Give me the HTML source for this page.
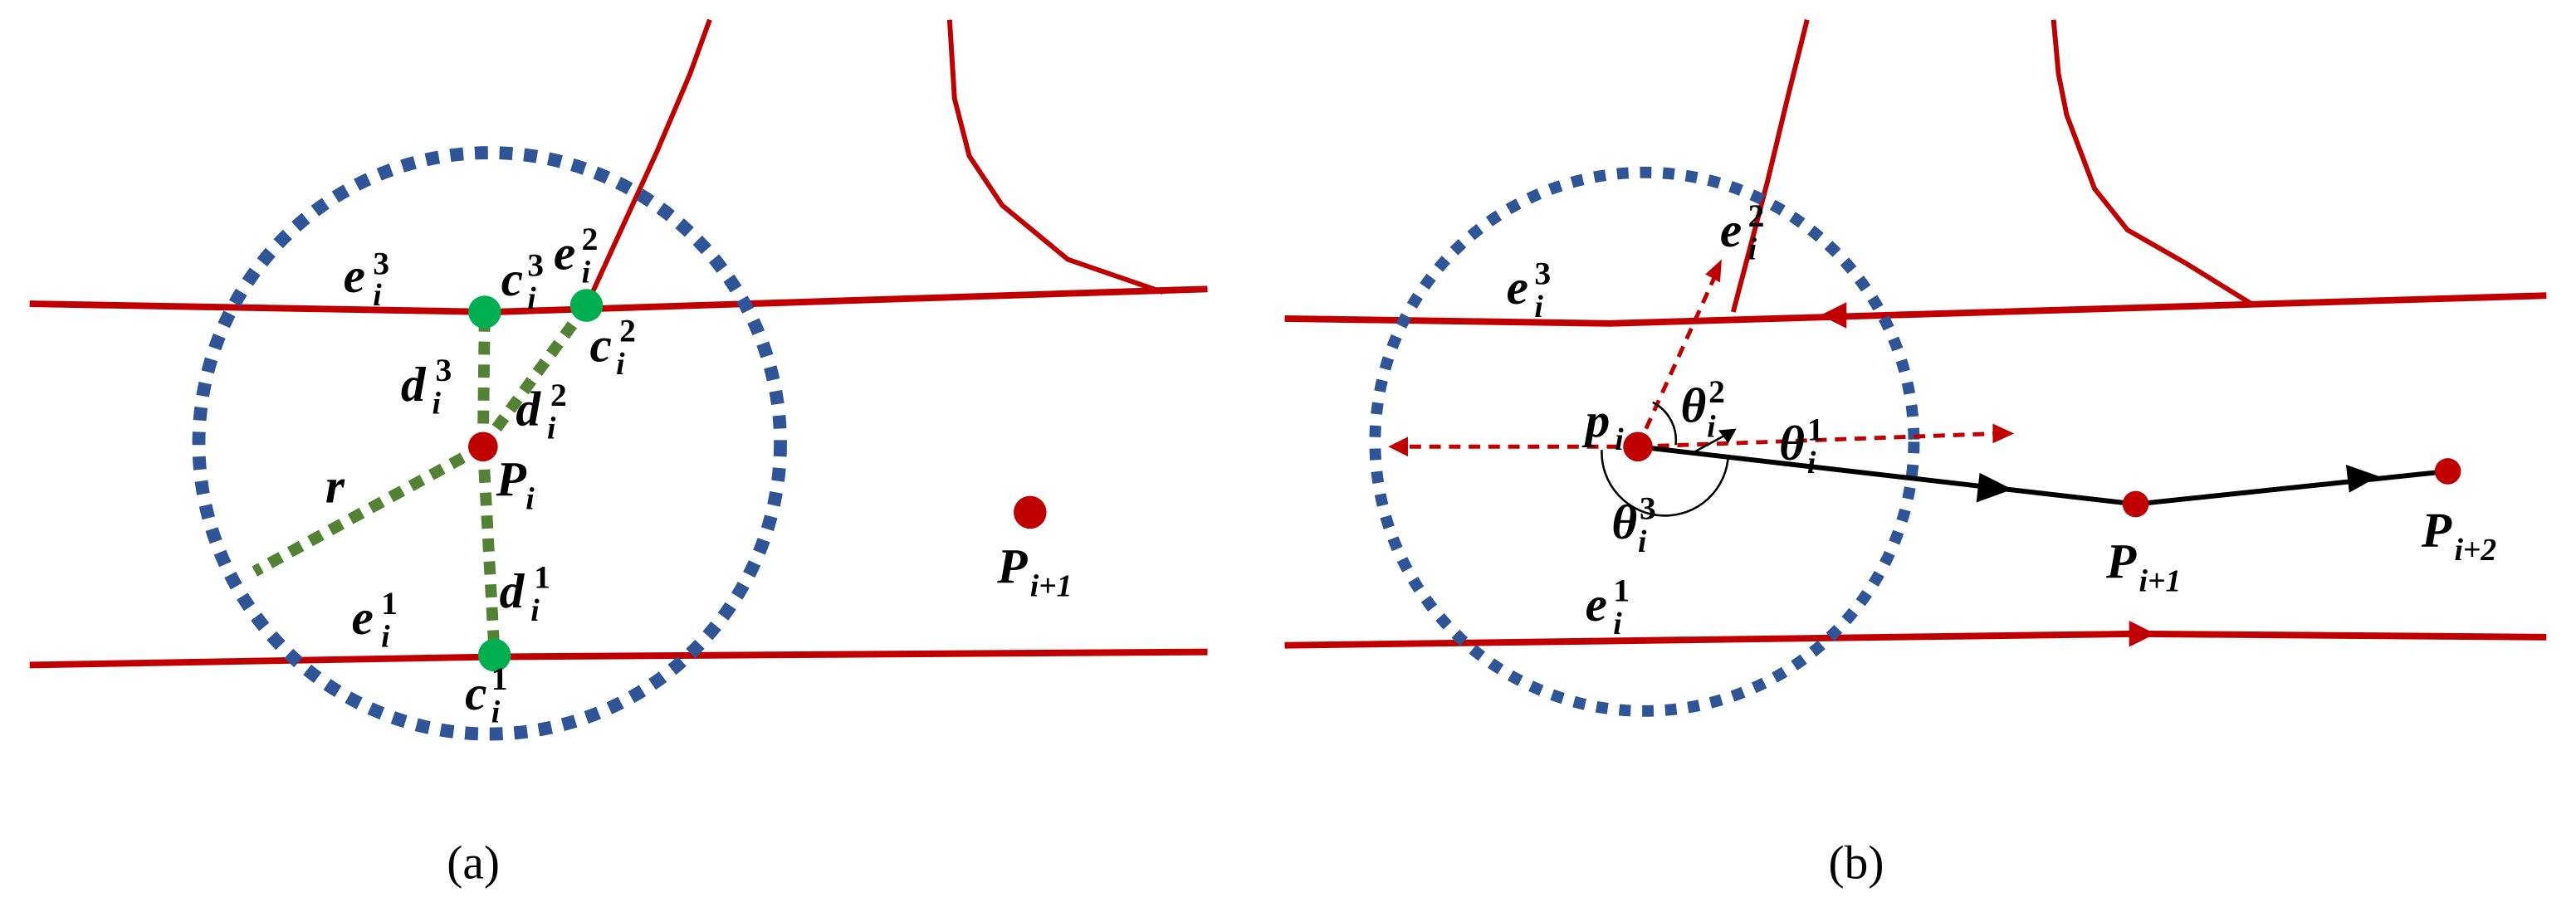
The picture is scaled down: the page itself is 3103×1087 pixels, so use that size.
<!DOCTYPE html>
<html><head><meta charset="utf-8"><style>
html,body{margin:0;padding:0;background:#fff;}
svg{display:block;}
text{font-family:"Liberation Serif",serif;font-style:italic;font-weight:bold;fill:#000;}
.s{font-size:19px;}
.n{font-size:20px;font-style:normal;}
.m{font-size:30px;}
.c{font-style:normal;font-weight:normal;font-size:29px;}
</style></head><body>
<svg width="3103" height="1087" viewBox="0 0 1568 549.3" xmlns="http://www.w3.org/2000/svg">
<!-- Panel a -->
<g fill="none" stroke="#c00000" stroke-width="4">
<path d="M18,185 L300,190 L735,176"/>
<path d="M18,405 L300,400 L735,397"/>
<path d="M432,12 L420,45 L400,92 L357,186" stroke-width="3"/>
<path d="M578,12 L581,60 L590,95 L610,125 L650,158 L708,178" stroke-width="3"/>
</g>
<circle cx="298" cy="270" r="177" fill="none" stroke="#2f5597" stroke-width="8" stroke-dasharray="8,7"/>
<g stroke="#548235" stroke-width="7" stroke-dasharray="8,6" fill="none">
<line x1="294" y1="272" x2="295" y2="190"/>
<line x1="294" y1="272" x2="357" y2="186"/>
<line x1="294" y1="272" x2="301" y2="399"/>
<line x1="294" y1="272" x2="155" y2="348"/>
</g>
<circle cx="295" cy="190" r="10" fill="#00b050"/>
<circle cx="357" cy="186" r="10" fill="#00b050"/>
<circle cx="301" cy="399" r="10" fill="#00b050"/>
<circle cx="294" cy="272" r="9" fill="#c00000"/>
<circle cx="627" cy="312" r="10" fill="#c00000"/>
<text x="209" y="178" class="m">e</text><text x="227" y="186" class="s">i</text><text x="227" y="167" class="n">3</text>
<text x="305" y="180" class="m">c</text><text x="321" y="188" class="s">i</text><text x="321" y="168" class="n">3</text>
<text x="337" y="164" class="m">e</text><text x="354" y="172" class="s">i</text><text x="354" y="152" class="n">2</text>
<text x="359" y="220" class="m">c</text><text x="375" y="228" class="s">i</text><text x="377" y="208" class="n">2</text>
<text x="244" y="244" class="m">d</text><text x="263" y="252" class="s">i</text><text x="265" y="232" class="n">3</text>
<text x="314" y="259" class="m">d</text><text x="333" y="267" class="s">i</text><text x="335" y="247" class="n">2</text>
<text x="198" y="306" class="m">r</text>
<text x="302" y="302" class="m">P</text><text x="320" y="310" class="s">i</text>
<text x="304" y="370" class="m">d</text><text x="323" y="378" class="s">i</text><text x="325" y="358" class="n">1</text>
<text x="214" y="386" class="m">e</text><text x="232" y="394" class="s">i</text><text x="232" y="374" class="n">1</text>
<text x="283" y="432" class="m">c</text><text x="299" y="440" class="s">i</text><text x="299" y="420" class="n">1</text>
<text x="607" y="355" class="m">P</text><text x="627" y="363" class="s">i+1</text>
<text x="272" y="535" class="c">(a)</text>
<!-- Panel b -->
<g fill="none" stroke="#c00000" stroke-width="4">
<path d="M782,194 L980,197 L1550,180"/>
<path d="M782,393 L1300,386 L1550,388"/>
<path d="M1100,12 L1088,60 L1076,110 L1055,190" stroke-width="3"/>
<path d="M1250,12 L1253,45 L1258,70 L1275,115 L1295,140 L1330,160 L1372,186" stroke-width="3"/>
</g>
<path d="M1108,192 L1124,184 L1124,200z" fill="#c00000"/>
<path d="M1312,386 L1296,378 L1296,394z" fill="#c00000"/>
<circle cx="1001" cy="269" r="164" fill="none" stroke="#2f5597" stroke-width="7" stroke-dasharray="7,7"/>
<g stroke="#c00000" stroke-width="2.5" stroke-dasharray="7,5" fill="none">
<line x1="997" y1="272" x2="852" y2="272"/>
<line x1="997" y1="272" x2="1216" y2="264"/>
<line x1="997" y1="272" x2="1044" y2="168"/>
</g>
<path d="M845,272 L857,266 L857,278z" fill="#c00000"/>
<path d="M1226,264 L1213,258 L1213,270z" fill="#c00000"/>
<path d="M1048,158 L1047,172 L1038,167z" fill="#c00000"/>
<g stroke="#000" stroke-width="3" fill="none">
<line x1="997" y1="272" x2="1300" y2="307"/>
<line x1="1300" y1="307" x2="1490" y2="287"/>
</g>
<path d="M1225,298 L1205,288 L1203,306z" fill="#000"/>
<path d="M1448,290 L1428,283 L1430,300z" fill="#000"/>
<g stroke="#000" stroke-width="1.3" fill="none">
<path d="M975,274 A28,28 0 0 0 1052,277"/>
<path d="M1006,245 A26,26 0 0 1 1020,271"/>
<path d="M1030,276 L1052,264"/>
</g>
<path d="M1057,261 L1046,262 L1052,270z" fill="#000"/>
<circle cx="997" cy="272" r="9" fill="#c00000"/>
<circle cx="1300" cy="307" r="8" fill="#c00000"/>
<circle cx="1490" cy="287" r="8" fill="#c00000"/>
<text x="1047" y="150" class="m">e</text><text x="1064" y="158" class="s">i</text><text x="1064" y="138" class="n">2</text>
<text x="917" y="185" class="m">e</text><text x="934" y="193" class="s">i</text><text x="934" y="173" class="n">3</text>
<text x="965" y="266" class="m">p</text><text x="983" y="274" class="s">i</text>
<text x="1023" y="257" class="m">θ</text><text x="1039" y="266" class="s">i</text><text x="1040" y="245" class="n">2</text>
<text x="1083" y="280" class="m">θ</text><text x="1100" y="288" class="s">i</text><text x="1100" y="268" class="n">1</text>
<text x="981" y="328" class="m">θ</text><text x="997" y="336" class="s">i</text><text x="998" y="316" class="n">3</text>
<text x="965" y="378" class="m">e</text><text x="982" y="386" class="s">i</text><text x="982" y="366" class="n">1</text>
<text x="1282" y="352" class="m">P</text><text x="1302" y="360" class="s">i+1</text>
<text x="1474" y="333" class="m">P</text><text x="1494" y="341" class="s">i+2</text>
<text x="1113" y="535" class="c">(b)</text>
</svg>
</body></html>
